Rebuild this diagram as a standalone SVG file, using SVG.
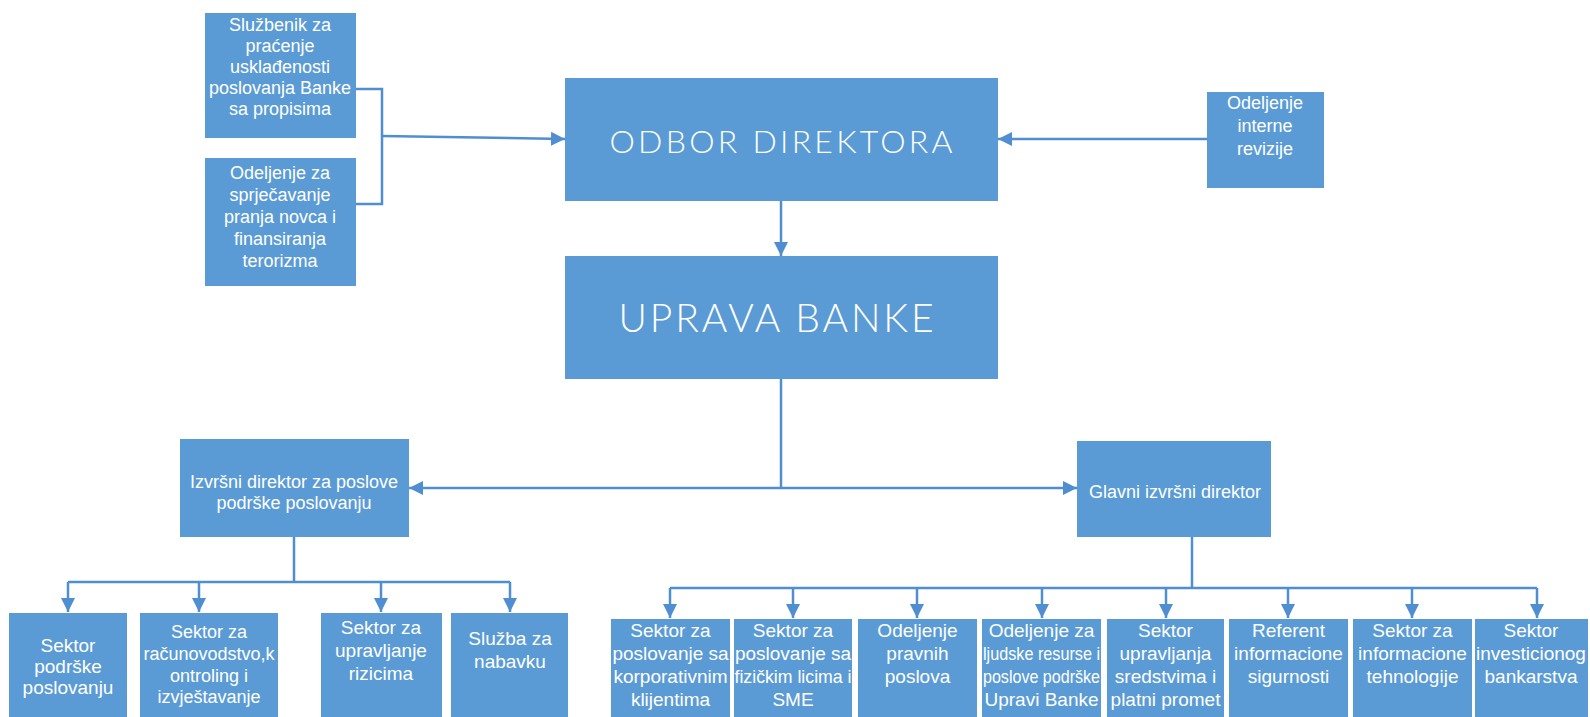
<svg xmlns="http://www.w3.org/2000/svg" width="1590" height="717" viewBox="0 0 1590 717">
<style>
.box{fill:#5b9bd5;}
.t{font-family:"Liberation Sans",Arial,sans-serif;fill:#ffffff;text-anchor:middle;font-size:18px;}
.s19{font-size:19px;}
.big{font-family:Lato,"Open Sans","Liberation Sans",sans-serif;font-weight:300;fill:#ffffff;text-anchor:middle;}
.ln{fill:none;stroke:#4f8ed0;stroke-width:2.5;}
</style>
<defs>
<marker id="ah" viewBox="0 0 14 14" refX="14" refY="7" markerWidth="14" markerHeight="14" markerUnits="userSpaceOnUse" orient="auto">
<path d="M0,0 L14,7 L0,14 z" fill="#4f8ed0"/>
</marker>
</defs>
<rect width="1590" height="717" fill="#ffffff"/>

<g id="connectors">
<path class="ln" d="M356,89 H382 V204 H356"/>
<path class="ln" d="M382,136 L565,139" marker-end="url(#ah)"/>
<path class="ln" d="M1207,139 H998" marker-end="url(#ah)"/>
<path class="ln" d="M781,201 V256" marker-end="url(#ah)"/>
<path class="ln" d="M781,379 V488"/>
<path class="ln" d="M781,488 H409" marker-end="url(#ah)"/>
<path class="ln" d="M781,488 H1077" marker-end="url(#ah)"/>
<path class="ln" d="M294,537 V582"/>
<path class="ln" d="M68,582 H510"/>
<path class="ln" d="M68,582 V612" marker-end="url(#ah)"/>
<path class="ln" d="M199,582 V612" marker-end="url(#ah)"/>
<path class="ln" d="M381,582 V612" marker-end="url(#ah)"/>
<path class="ln" d="M510,582 V612" marker-end="url(#ah)"/>
<path class="ln" d="M1192,537 V588"/>
<path class="ln" d="M670,588 H1537"/>
<path class="ln" d="M670,588 V618" marker-end="url(#ah)"/>
<path class="ln" d="M793,588 V618" marker-end="url(#ah)"/>
<path class="ln" d="M917,588 V618" marker-end="url(#ah)"/>
<path class="ln" d="M1042,588 V618" marker-end="url(#ah)"/>
<path class="ln" d="M1166,588 V618" marker-end="url(#ah)"/>
<path class="ln" d="M1288,588 V618" marker-end="url(#ah)"/>
<path class="ln" d="M1412,588 V618" marker-end="url(#ah)"/>
<path class="ln" d="M1537,588 V618" marker-end="url(#ah)"/>
</g>

<g id="sluzbenik">
<rect class="box" x="205" y="13" width="151" height="125"/>
<text class="t"><tspan x="280" y="31">Službenik za</tspan><tspan x="280" y="52">praćenje</tspan><tspan x="280" y="73">usklađenosti</tspan><tspan x="280" y="94">poslovanja Banke</tspan><tspan x="280" y="115">sa propisima</tspan></text>
</g>
<g id="sprjecavanje">
<rect class="box" x="205" y="158" width="151" height="128"/>
<text class="t"><tspan x="280" y="179">Odeljenje za</tspan><tspan x="280" y="201">sprječavanje</tspan><tspan x="280" y="223">pranja novca i</tspan><tspan x="280" y="245">finansiranja</tspan><tspan x="280" y="267">terorizma</tspan></text>
</g>
<g id="odbor">
<rect class="box" x="565" y="78" width="433" height="123"/>
<text class="big" x="781" y="153" font-size="32" textLength="343" lengthAdjust="spacing">ODBOR DIREKTORA</text>
</g>
<g id="revizija">
<rect class="box" x="1207" y="92" width="117" height="96"/>
<text class="t"><tspan x="1265" y="109">Odeljenje</tspan><tspan x="1265" y="132">interne</tspan><tspan x="1265" y="155">revizije</tspan></text>
</g>
<g id="uprava">
<rect class="box" x="565" y="256" width="433" height="123"/>
<text class="big" x="776" y="332" font-size="39" textLength="315" lengthAdjust="spacing">UPRAVA BANKE</text>
</g>
<g id="izvrsni">
<rect class="box" x="180" y="439" width="229" height="98"/>
<text class="t"><tspan x="294" y="488">Izvršni direktor za poslove</tspan><tspan x="294" y="509">podrške poslovanju</tspan></text>
</g>
<g id="glavni">
<rect class="box" x="1077" y="441" width="194" height="96"/>
<text class="t" x="1175" y="498" font-size="16">Glavni izvršni direktor</text>
</g>

<g id="sektor-podrske">
<rect class="box" x="9" y="613" width="118" height="104"/>
<text class="t s19"><tspan x="68" y="652">Sektor</tspan><tspan x="68" y="673">podrške</tspan><tspan x="68" y="694">poslovanju</tspan></text>
</g>
<g id="sektor-racunovodstvo">
<rect class="box" x="140" y="613" width="138" height="104"/>
<text class="t"><tspan x="209" y="638">Sektor za</tspan><tspan x="209" y="660">računovodstvo,k</tspan><tspan x="209" y="682">ontroling i</tspan><tspan x="209" y="703">izvještavanje</tspan></text>
</g>
<g id="sektor-rizici">
<rect class="box" x="321" y="613" width="121" height="104"/>
<text class="t s19"><tspan x="381" y="634">Sektor za</tspan><tspan x="381" y="657">upravljanje</tspan><tspan x="381" y="680">rizicima</tspan></text>
</g>
<g id="nabavka">
<rect class="box" x="451" y="613" width="117" height="104"/>
<text class="t s19"><tspan x="510" y="645">Služba za</tspan><tspan x="510" y="668">nabavku</tspan></text>
</g>

<g id="korporativni">
<rect class="box" x="611" y="619" width="119" height="98"/>
<text class="t s19"><tspan x="670.5" y="637">Sektor za</tspan><tspan x="670.5" y="660">poslovanje sa</tspan><tspan x="670.5" y="683">korporativnim</tspan><tspan x="670.5" y="706">klijentima</tspan></text>
</g>
<g id="fizicka-lica">
<rect class="box" x="734" y="619" width="118" height="98"/>
<text class="t s19"><tspan x="793" y="637">Sektor za</tspan><tspan x="793" y="660">poslovanje sa</tspan><tspan x="793" y="683" textLength="117" lengthAdjust="spacingAndGlyphs">fizičkim licima i</tspan><tspan x="793" y="706">SME</tspan></text>
</g>
<g id="pravni">
<rect class="box" x="858" y="619" width="119" height="98"/>
<text class="t s19"><tspan x="917.5" y="637">Odeljenje</tspan><tspan x="917.5" y="660">pravnih</tspan><tspan x="917.5" y="683">poslova</tspan></text>
</g>
<g id="ljudski-resursi">
<rect class="box" x="982" y="619" width="119" height="98"/>
<text class="t s19"><tspan x="1041.5" y="637">Odeljenje za</tspan><tspan x="1041.5" y="660" textLength="117" lengthAdjust="spacingAndGlyphs">ljudske resurse i</tspan><tspan x="1041.5" y="683" textLength="117" lengthAdjust="spacingAndGlyphs">poslove podrške</tspan><tspan x="1041.5" y="706">Upravi Banke</tspan></text>
</g>
<g id="sredstva">
<rect class="box" x="1107" y="619" width="117" height="98"/>
<text class="t s19"><tspan x="1165.5" y="637">Sektor</tspan><tspan x="1165.5" y="660">upravljanja</tspan><tspan x="1165.5" y="683">sredstvima i</tspan><tspan x="1165.5" y="706">platni promet</tspan></text>
</g>
<g id="referent">
<rect class="box" x="1229" y="619" width="119" height="98"/>
<text class="t s19"><tspan x="1288.5" y="637">Referent</tspan><tspan x="1288.5" y="660">informacione</tspan><tspan x="1288.5" y="683">sigurnosti</tspan></text>
</g>
<g id="it">
<rect class="box" x="1353" y="619" width="119" height="98"/>
<text class="t s19"><tspan x="1412.5" y="637">Sektor za</tspan><tspan x="1412.5" y="660">informacione</tspan><tspan x="1412.5" y="683">tehnologije</tspan></text>
</g>
<g id="investicioni">
<rect class="box" x="1475" y="619" width="113" height="98"/>
<text class="t s19"><tspan x="1531" y="637">Sektor</tspan><tspan x="1531" y="660">investicionog</tspan><tspan x="1531" y="683">bankarstva</tspan></text>
</g>
</svg>
